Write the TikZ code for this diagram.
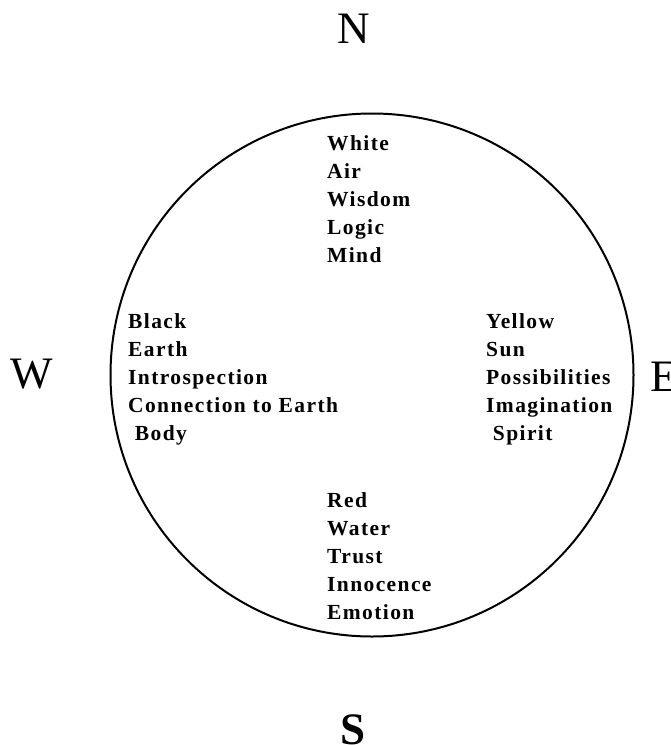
\documentclass[tikz,border=0pt]{standalone}
\usepackage{fontspec}
\setmainfont{Liberation Serif}
\newfontfamily\trackedfont[LetterSpace=6.5]{Liberation Serif}
\usetikzlibrary{positioning}
\tikzset{
	quality/.style={align=left, anchor=base west, inner sep=0pt,
		font=\trackedfont\bfseries\fontsize{21.5}{28}\selectfont},
	compass/.style={anchor=base, inner sep=0pt, font=\fontsize{45}{45}\selectfont}
}

\begin{document}
\begin{tikzpicture}[x=1pt, y=-1pt]
		\useasboundingbox (0,0) rectangle (671,745);
		\node[draw, circle, line width=2pt, minimum size=523pt, inner sep=0pt] (wheel) at (372,375) {};
		
		% compass points
		\node[compass] (north) at (354,43) {N};
		\node[compass] (west) at (32,388) {W};
		\node[compass, anchor=base west] (east) at (650,391) {E};
		\node[compass] (south) at (353,744) {\bfseries S};
		
		% the four quarters (anchored at the baseline of the last line)
		\node[quality] (white) at (327,262) {White\\Air\\Wisdom\\Logic\\Mind};
		\node[quality] (black) at (128,440) {Black\\Earth\\Introspection\\Connection to Earth\\\ Body};
		\node[quality] (yellow) at (486,440) {Yellow\\Sun\\Possibilities\\Imagination\\\ Spirit};
		\node[quality] (red) at (327,619) {Red\\Water\\Trust\\Innocence\\Emotion};
	\end{tikzpicture}
\end{document}
